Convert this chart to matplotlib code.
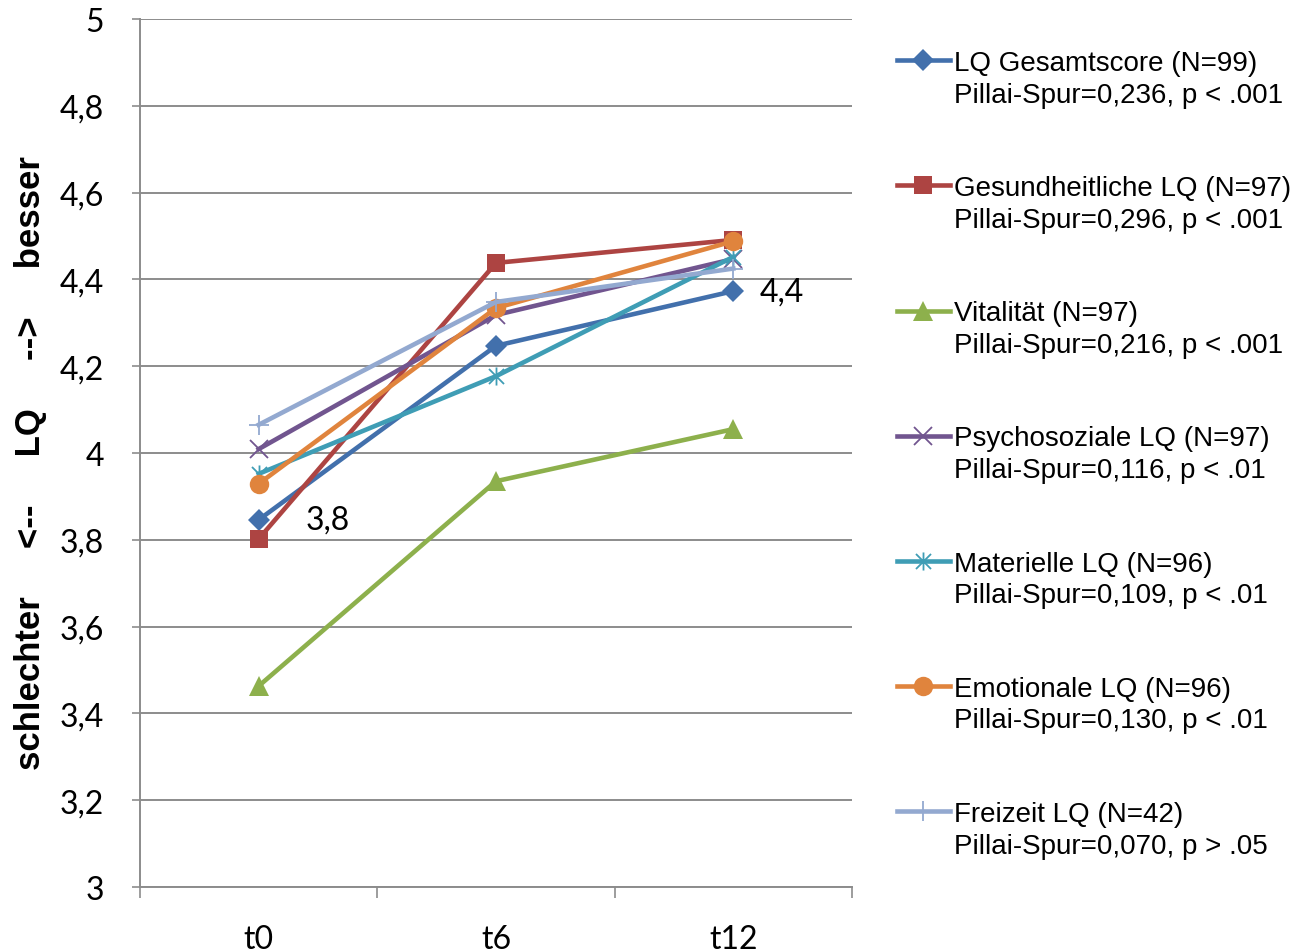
import matplotlib
matplotlib.use("Agg")
import matplotlib.pyplot as plt
import numpy as np
from matplotlib.path import Path
from matplotlib.text import Annotation

# data
zeitpunkte = ["t0", "t6", "t12"]
gesamt = [3.846, 4.247, 4.373]
gesund = [3.802, 4.438, 4.491]
vital = [3.463, 3.935, 4.055]
psycho = [4.009, 4.318, 4.447]
materiell = [3.952, 4.177, 4.452]
emotional = [3.929, 4.334, 4.488]
freizeit = [4.065, 4.348, 4.425]

namen = ["LQ Gesamtscore (N=99)", "Gesundheitliche LQ (N=97)", "Vitalität (N=97)",
         "Psychosoziale LQ (N=97)", "Materielle LQ (N=96)", "Emotionale LQ (N=96)",
         "Freizeit LQ (N=42)"]
pillai = ["Pillai-Spur=0,236, p < .001", "Pillai-Spur=0,296, p < .001",
          "Pillai-Spur=0,216, p < .001", "Pillai-Spur=0,116, p < .01",
          "Pillai-Spur=0,109, p < .01", "Pillai-Spur=0,130, p < .01",
          "Pillai-Spur=0,070, p > .05"]
yticks = [3, 3.2, 3.4, 3.6, 3.8, 4, 4.2, 4.4, 4.6, 4.8, 5]

# excel style asterisk (x plus vertical bar)
star = Path([(-1, -1), (1, 1), (-1, 1), (1, -1), (0, -1.2), (0, 1.2)],
            [Path.MOVETO, Path.LINETO, Path.MOVETO, Path.LINETO, Path.MOVETO, Path.LINETO])

serien = [gesamt, gesund, vital, psycho, materiell, emotional, freizeit]
farben = ["#4270AC", "#AD4442", "#8DB04C", "#71558F", "#3F9DB5", "#E0843D", "#93A9D0"]
marker = ["D", "s", "^", "x", star, "o", "+"]
msizes = [11, 13.5, 14.5, 13, 13, 14, 15]

fig = plt.figure(figsize=(12.96, 9.53), dpi=100)
ax = fig.add_axes([140/1296, 1-888/953, 712/1296, 868/953])

x = np.arange(len(zeitpunkte))
handles = []
for s, c, m, ms in zip(serien, farben, marker, msizes):
    hollow = m in ("x", "+") or m is star
    h, = ax.plot(x, s, color=c, lw=3.3, marker=m, ms=ms,
                 mew=1.3 if hollow else 0, mec=c, mfc=c, zorder=3)
    handles.append(h)

# data labels for first and last point of the total score
for i, dx in ((0, 34), (2, 19)):
    ax.annotate(f"{gesamt[i]:.1f}".replace(".", ","), (x[i], gesamt[i]),
                xytext=(dx, 0), textcoords="offset points", ha="left", va="center",
                fontsize=23, family="Lato")

ax.set_xlim(-0.5, 2.5)
ax.set_ylim(3, 5)
ax.set_yticks(yticks)
ax.set_yticklabels([f"{v:g}".replace(".", ",") for v in yticks], family="Lato", fontsize=23)
ax.set_xticks(x)
ax.set_xticklabels(zeitpunkte, family="Lato", fontsize=23)
ax.set_xticks([-0.5, 0.5, 1.5, 2.5], minor=True)
ax.tick_params(axis="x", which="major", length=0, pad=27)
ax.tick_params(axis="x", which="minor", length=8, width=1.2, color="#8c8c8c", direction="out")
ax.tick_params(axis="y", length=6, width=1.2, color="#8c8c8c", pad=20)
ax.grid(axis="y", color="#8c8c8c", lw=1.4, zorder=0)
ax.set_axisbelow(True)
for sp in ("top", "right"):
    ax.spines[sp].set_visible(False)
for sp in ("left", "bottom"):
    ax.spines[sp].set_color("#8c8c8c")
    ax.spines[sp].set_linewidth(1.4)

ax.set_ylabel("schlechter     <--     LQ     -->     besser", fontsize=25,
              fontweight="bold", family="Liberation Sans")
ax.yaxis.set_label_coords(-0.131, 0.49)

leg = fig.legend(handles, namen, loc="upper left", bbox_to_anchor=(897/1296, 1-51/953),
                 frameon=False, prop={"family": "Liberation Sans", "size": 20},
                 borderpad=0, borderaxespad=0, handlelength=1.9, handletextpad=0.15,
                 labelspacing=3.57)
for t, p in zip(leg.get_texts(), pillai):
    fig.add_artist(Annotation(
        p, xy=(0, 0), xycoords=t, xytext=(0, -4), textcoords="offset points",
        va="top", ha="left", fontsize=20, family="Liberation Sans", zorder=10))

fig.savefig("out.png", dpi=100)
